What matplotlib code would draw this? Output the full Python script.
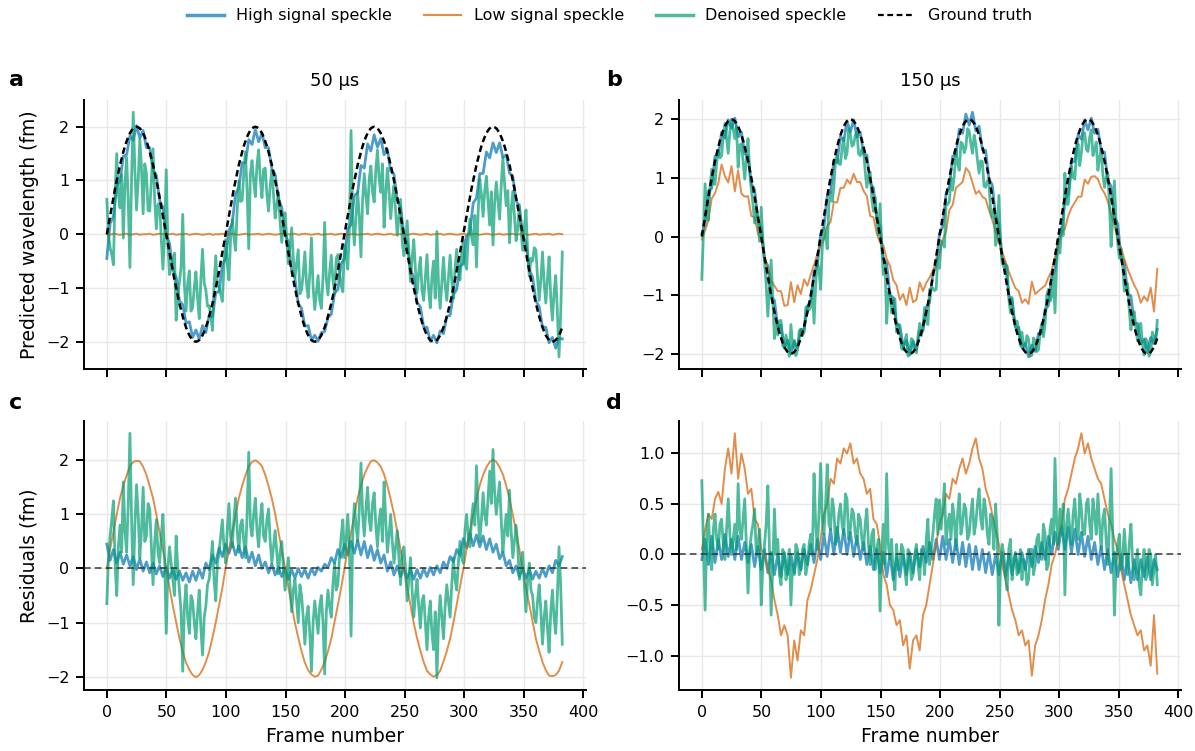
import numpy as np
import matplotlib
matplotlib.use("Agg")
import matplotlib.pyplot as plt
from matplotlib.lines import Line2D

# ---------------- data ----------------
fine_step = 1.385                      # frames between fine samples
frames_fine = np.arange(277) * fine_step
frames = frames_fine[::2]             # coarse grid (139 samples)

ground_truth_fine = [
    0.00, 0.17, 0.35, 0.52, 0.68, 0.85, 1.00, 1.15, 1.29, 1.41, 1.53, 1.64, 1.73, 1.81, 1.88, 1.93, 1.97, 1.99,
    2.00, 1.99, 1.97, 1.93, 1.88, 1.81, 1.73, 1.64, 1.53, 1.41, 1.29, 1.15, 1.00, 0.85, 0.68, 0.52, 0.35, 0.17,
    0.00, -0.17, -0.35, -0.52, -0.68, -0.85, -1.00, -1.15, -1.29, -1.41, -1.53, -1.64, -1.73, -1.81, -1.88, -1.93, -1.97, -1.99,
    -2.00, -1.99, -1.97, -1.93, -1.88, -1.81, -1.73, -1.64, -1.53, -1.41, -1.29, -1.15, -1.00, -0.85, -0.68, -0.52, -0.35, -0.17,
    0.00, 0.17, 0.35, 0.52, 0.68, 0.85, 1.00, 1.15, 1.29, 1.41, 1.53, 1.64, 1.73, 1.81, 1.88, 1.93, 1.97, 1.99,
    2.00, 1.99, 1.97, 1.93, 1.88, 1.81, 1.73, 1.64, 1.53, 1.41, 1.29, 1.15, 1.00, 0.85, 0.68, 0.52, 0.35, 0.17,
    0.00, -0.17, -0.35, -0.52, -0.68, -0.85, -1.00, -1.15, -1.29, -1.41, -1.53, -1.64, -1.73, -1.81, -1.88, -1.93, -1.97, -1.99,
    -2.00, -1.99, -1.97, -1.93, -1.88, -1.81, -1.73, -1.64, -1.53, -1.41, -1.29, -1.15, -1.00, -0.85, -0.68, -0.52, -0.35, -0.17,
    0.00, 0.17, 0.35, 0.52, 0.68, 0.85, 1.00, 1.15, 1.29, 1.41, 1.53, 1.64, 1.73, 1.81, 1.88, 1.93, 1.97, 1.99,
    2.00, 1.99, 1.97, 1.93, 1.88, 1.81, 1.73, 1.64, 1.53, 1.41, 1.29, 1.15, 1.00, 0.85, 0.68, 0.52, 0.35, 0.17,
    0.00, -0.17, -0.35, -0.52, -0.68, -0.85, -1.00, -1.15, -1.29, -1.41, -1.53, -1.64, -1.73, -1.81, -1.88, -1.93, -1.97, -1.99,
    -2.00, -1.99, -1.97, -1.93, -1.88, -1.81, -1.73, -1.64, -1.53, -1.41, -1.29, -1.15, -1.00, -0.85, -0.68, -0.52, -0.35, -0.17,
    0.00, 0.17, 0.35, 0.52, 0.68, 0.85, 1.00, 1.15, 1.29, 1.41, 1.53, 1.64, 1.73, 1.81, 1.88, 1.93, 1.97, 1.99,
    2.00, 1.99, 1.97, 1.93, 1.88, 1.81, 1.73, 1.64, 1.53, 1.41, 1.29, 1.15, 1.00, 0.85, 0.68, 0.52, 0.35, 0.17,
    0.00, -0.17, -0.35, -0.52, -0.68, -0.85, -1.00, -1.15, -1.29, -1.41, -1.53, -1.64, -1.73, -1.81, -1.88, -1.93, -1.97, -1.99,
    -2.00, -1.99, -1.97, -1.93, -1.88, -1.81, -1.73,
]

# 50 us residuals (ground truth - prediction), coarse grid
resid_high_50 = [
    0.45, 0.15, 0.35, 0.10, 0.30, 0.08, 0.25, 0.05, 0.22, -0.02,
    0.18, -0.05, 0.12, -0.08, 0.10, -0.10, 0.05, -0.15, 0.02, -0.18,
    -0.02, -0.20, -0.05, -0.22, -0.08, -0.25, -0.05, -0.22, -0.02, -0.18,
    0.10, -0.02, 0.25, 0.10, 0.38, 0.22, 0.45, 0.28, 0.48, 0.25,
    0.42, 0.20, 0.40, 0.12, 0.30, 0.05, 0.25, 0.00, 0.12, -0.08,
    0.08, -0.12, 0.02, -0.15, 0.00, -0.20, -0.02, -0.18, 0.00, -0.15,
    -0.02, -0.18, 0.00, -0.12, 0.02, -0.05, 0.08, 0.02, 0.20, 0.10,
    0.35, 0.20, 0.45, 0.25, 0.50, 0.28, 0.52, 0.25, 0.50, 0.20,
    0.42, 0.15, 0.35, 0.10, 0.25, -0.05, 0.12, -0.12, 0.05, -0.15,
    0.00, -0.18, -0.02, -0.20, -0.02, -0.18, 0.00, -0.15, 0.02, -0.12,
    0.05, -0.08, 0.12, 0.00, 0.22, 0.12, 0.35, 0.25, 0.55, 0.38,
    0.65, 0.42, 0.62, 0.40, 0.60, 0.35, 0.55, 0.30, 0.45, 0.18,
    0.30, 0.05, 0.15, -0.08, 0.05, -0.15, 0.00, -0.18, -0.02, -0.20,
    -0.05, -0.18, 0.00, -0.15, 0.05, -0.08, 0.15, 0.05, 0.22,
]

pred_low_50 = [
    0.00, -0.01, 0.01, 0.00, -0.01, 0.00, 0.01, -0.01, 0.00, 0.01,
    -0.01, 0.00, 0.00, 0.01, -0.01, 0.00, 0.01, 0.00, -0.01, 0.00,
    0.01, -0.01, 0.00, 0.00, 0.01, -0.01, 0.00, 0.01, 0.00, -0.01,
    0.00, 0.01, -0.01, 0.00, 0.00, 0.01, -0.01, 0.00, 0.01, 0.00,
    -0.01, 0.00, 0.01, -0.01, 0.00, 0.00, 0.01, -0.01, 0.00, 0.01,
    0.00, -0.01, 0.00, 0.01, -0.01, 0.00, 0.00, 0.01, -0.01, 0.00,
    0.01, 0.00, -0.01, 0.00, 0.01, -0.01, 0.00, 0.00, 0.01, -0.01,
    0.00, 0.01, 0.00, -0.01, 0.00, 0.01, -0.01, 0.00, 0.00, 0.01,
    -0.01, 0.00, 0.01, 0.00, -0.01, 0.00, 0.01, -0.01, 0.00, 0.00,
    0.01, -0.01, 0.00, 0.01, 0.00, -0.01, 0.00, 0.01, -0.01, 0.00,
    0.00, 0.01, -0.01, 0.00, 0.01, 0.00, -0.01, 0.00, 0.01, -0.01,
    0.00, 0.00, 0.01, -0.01, 0.00, 0.01, 0.00, -0.01, 0.00, 0.01,
    -0.01, 0.00, 0.00, 0.01, -0.01, 0.00, 0.01, 0.00, -0.01, 0.00,
    0.01, -0.01, 0.00, 0.00, 0.01, -0.01, 0.00, 0.01, 0.00,
]

# denoised residual, 50 us, fine grid
resid_den_50 = [
    -0.65, 0.20, 0.60, 0.90, 1.25, 0.10, -0.50, 0.40, 0.80, 0.30, 1.60, 0.70, 0.30, 1.20, 2.50, 0.90, -0.30, 0.80, 1.55, 1.00,
    0.20, 0.70, 1.50, 0.50, 0.60, 1.20, 1.10, 0.40, -0.30, 0.50, 0.90, 0.30, 0.10, 0.60, 1.00, 0.20, -1.20, 0.00, 0.40, 0.10,
    -0.20, -0.50, 0.60, 0.00, -0.40, -0.80, -1.90, -0.70, -0.30, -0.90, -1.20, -0.50, -0.60, -1.00, -1.30, -0.80, -0.40, -1.10, -1.60, -0.90,
    -0.70, -0.30, -0.20, 0.10, 0.50, -0.20, -0.60, 0.10, 0.30, 0.60, 0.90, 0.40, 0.10, 0.70, 1.20, 0.60, 0.40, 0.90, 1.30, 0.70,
    0.30, 0.80, 0.90, 0.50, 0.20, 1.00, 2.15, 0.80, 0.60, 1.00, 1.30, 0.70, 0.40, 0.90, 1.20, 0.60, 0.50, 0.90, 1.10, 0.50,
    0.10, 0.40, 0.70, 0.30, -0.10, 0.30, 0.50, 0.00, -0.40, -0.10, 0.20, -0.30, -0.80, -0.40, -0.20, -0.60, -1.00, -0.30, -0.50, -0.90,
    -1.40, -0.90, -0.70, -1.20, -1.90, -1.00, -0.60, -0.90, -1.20, -0.70, -0.50, -1.00, -1.95, -0.80, -0.40, -0.70, -0.90, -0.30, 0.10, -0.40,
    -0.30, 0.20, 0.60, 0.90, 0.20, 0.50, 1.00, 0.40, -1.25, 0.60, 1.20, 0.80, 0.50, 1.10, 1.95, 1.00, 0.60, 1.10, 1.50, 0.90,
    0.70, 1.20, 1.40, 0.80, 0.40, 0.90, 1.10, 0.50, 1.60, 0.90, 0.30, 0.60, 1.00, 0.50, 0.10, 0.40, 0.70, 0.20, -0.30, 0.30,
    0.40, 0.00, -0.60, -0.20, 0.20, -0.40, -0.90, -0.50, -0.20, -0.70, -1.10, -0.60, -0.50, -1.00, -1.50, -0.90, -0.60, -1.20, -1.50, -0.80,
    -2.02, -1.00, -0.50, -0.90, -1.30, -0.70, -0.30, -0.60, -0.90, -0.30, 0.20, -0.20, -0.40, 0.10, 0.50, 0.20, 0.10, 0.70, 1.00, 0.60,
    0.40, 0.90, 1.20, 0.80, 1.90, 1.00, 0.50, 0.90, 1.40, 1.00, 0.80, 1.30, 1.80, 1.20, 2.20, 1.40, 1.00, 1.30, 1.60, 0.90,
    0.30, 0.70, 1.00, 0.60, 1.45, 0.70, 0.20, 0.50, 0.80, 0.40, -0.20, 0.10, 0.30, -0.30, -0.80, -0.20, 0.10, -0.40, -0.50, -0.90,
    -1.00, -0.60, -0.30, -0.80, -1.40, -0.90, -0.60, -1.10, -1.55, -0.80, -0.40, -0.90, -1.20, -0.50, 0.40, -0.30, -1.40,
]

# 150 us residuals (ground truth - prediction), coarse grid
resid_high_150 = [
    -0.05, 0.15, -0.10, 0.18, -0.08, 0.15, -0.05, 0.20, -0.02, 0.15,
    -0.05, 0.18, -0.05, 0.12, -0.08, 0.10, -0.12, 0.08, -0.15, 0.05,
    -0.18, 0.02, -0.20, 0.00, -0.22, 0.02, -0.20, 0.00, -0.18, 0.02,
    -0.15, 0.05, -0.10, 0.10, -0.08, 0.15, -0.05, 0.20, -0.02, 0.25,
    0.00, 0.27, 0.02, 0.25, 0.00, 0.22, -0.02, 0.18, -0.05, 0.12,
    -0.10, 0.08, -0.15, 0.05, -0.18, 0.02, -0.22, 0.00, -0.25, -0.02,
    -0.22, 0.00, -0.20, 0.02, -0.18, 0.05, -0.12, 0.08, -0.08, 0.12,
    -0.05, 0.15, -0.05, 0.18, -0.05, 0.15, -0.08, 0.15, -0.10, 0.12,
    -0.12, 0.10, -0.15, 0.08, -0.15, 0.05, -0.18, 0.02, -0.20, 0.00,
    -0.20, 0.02, -0.22, 0.00, -0.20, 0.02, -0.18, 0.02, -0.15, 0.05,
    -0.12, 0.08, -0.08, 0.12, -0.05, 0.18, 0.00, 0.22, 0.05, 0.28,
    0.05, 0.27, 0.02, 0.25, 0.00, 0.22, -0.02, 0.18, -0.05, 0.12,
    -0.10, 0.08, -0.15, 0.05, -0.18, 0.02, -0.22, 0.00, -0.25, -0.02,
    -0.28, -0.05, -0.25, -0.05, -0.22, -0.02, -0.25, -0.05, -0.15,
]

resid_low_150 = [
    0.05, 0.25, 0.40, 0.35, 0.55, 0.62, 0.50, 0.85, 1.05, 0.80,
    1.20, 0.75, 1.00, 0.85, 0.60, 0.65, 0.35, 0.30, 0.05, 0.00,
    -0.15, -0.25, -0.45, -0.60, -0.80, -0.70, -0.80, -1.22, -0.85, -1.05,
    -0.75, -0.80, -0.45, -0.35, -0.20, -0.05, 0.15, 0.40, 0.50, 0.75,
    0.70, 0.95, 0.90, 1.05, 1.00, 1.10, 0.90, 0.95, 0.80, 0.75,
    0.60, 0.65, 0.35, 0.30, 0.10, -0.20, -0.30, -0.50, -0.55, -0.70,
    -0.65, -0.90, -0.80, -1.13, -0.85, -0.80, -0.95, -0.60, -0.50, -0.30,
    -0.10, 0.10, 0.30, 0.40, 0.60, 0.55, 0.75, 0.70, 0.85, 0.95,
    0.80, 0.90, 1.05, 1.15, 0.95, 0.85, 0.65, 0.55, 0.40, 0.25,
    0.10, -0.10, -0.25, -0.40, -0.55, -0.65, -0.80, -0.75, -0.90, -0.85,
    -1.20, -0.90, -0.80, -0.65, -0.45, -0.30, -0.10, 0.00, 0.15, 0.30,
    0.55, 0.65, 0.80, 0.95, 1.05, 1.20, 1.00, 1.10, 0.95, 0.85,
    0.75, 0.70, 0.55, 0.40, 0.30, 0.15, 0.05, -0.15, -0.30, -0.45,
    -0.60, -0.70, -0.80, -0.75, -0.95, -0.90, -1.10, -0.60, -1.18,
]

# denoised residual, 150 us, fine grid
resid_den_150 = [
    0.73, 0.10, -0.55, 0.20, 0.40, 0.00, -0.15, 0.25, 0.40, 0.15, 0.05, 0.30, 0.35, 0.10, -0.05, 0.25, 0.55, 0.20, 0.00, 0.15,
    0.30, 0.05, 0.70, 0.25, 0.15, 0.35, 0.55, 0.10, -0.38, 0.05, 0.20, 0.30, 0.45, 0.00, 0.10, 0.25, -0.50, -0.10, 0.10, 0.30,
    0.68, 0.05, -0.60, -0.10, 0.45, 0.00, 0.15, -0.20, -0.30, 0.05, 0.00, -0.25, -0.15, 0.05, -0.50, -0.10, -0.20, 0.10, 0.05, -0.20,
    -0.15, 0.05, 0.10, -0.20, -0.10, 0.10, 0.20, 0.00, 0.80, 0.30, 0.05, 0.40, 0.90, 0.35, 0.20, 0.50, 0.89, 0.30, 0.25, 0.55,
    0.45, 0.10, 0.15, 0.40, 0.50, 0.30, 0.20, 0.60, 0.55, 0.15, 0.25, 0.45, 0.40, 0.20, 0.10, 0.40, 0.35, 0.15, 0.05, 0.30,
    0.45, 0.10, -0.10, 0.20, 0.25, -0.15, 0.05, 0.15, -0.56, 0.00, 0.30, -0.10, 0.80, 0.10, -0.05, 0.15, -0.20, -0.35, 0.10, -0.15,
    -0.10, 0.10, 0.05, -0.15, -0.30, 0.05, -0.05, -0.25, -0.20, 0.00, 0.10, -0.10, -0.25, 0.05, 0.00, -0.20, 0.15, 0.35, -0.10, 0.05,
    0.20, 0.40, 0.55, 0.20, 0.54, 0.25, 0.45, 0.70, 0.10, 0.30, 0.40, 0.15, 0.50, 0.35, 0.05, 0.40, 0.60, 0.20, 0.30, 0.50,
    0.45, 0.15, 0.20, 0.40, 0.55, 0.20, 0.30, 0.50, 0.65, 0.35, 0.25, 0.55, 0.45, 0.20, 0.10, 0.40, 0.35, 0.05, 0.50, 0.20,
    -0.70, -0.10, 0.10, 0.00, -0.20, -0.35, 0.05, 0.15, -0.25, -0.05, 0.00, -0.20, -0.15, 0.05, -0.25, -0.05, -0.10, -0.30, -0.25, 0.05,
    0.05, -0.20, -0.10, 0.15, 0.20, 0.00, -0.05, 0.30, 0.20, -0.15, -0.10, 0.25, 0.35, 0.10, 0.95, 0.30, 0.10, 0.45, 0.20, 0.50,
    -0.40, 0.30, 0.45, 0.25, 0.10, 0.40, 0.55, 0.25, 0.15, 0.60, 0.45, 0.20, 0.20, 0.50, 0.55, 0.30, 0.15, 0.55, 0.40, 0.20,
    0.60, 0.30, 0.05, 0.35, 0.45, 0.15, -0.10, 0.30, 0.85, 0.20, -0.60, -0.10, 0.10, 0.20, -0.15, -0.05, 0.25, 0.00, -0.20, 0.10,
    0.30, -0.05, -0.25, -0.10, 0.05, -0.30, -0.40, -0.10, 0.05, -0.25, -0.20, 0.05, 0.00, -0.30, -0.15, 0.00, -0.30,
]

# predictions derived from ground truth and residuals
gt_fine = np.array(ground_truth_fine)
gt = gt_fine[::2]
pred_high_50 = gt - np.array(resid_high_50)
pred_den_50 = gt_fine - np.array(resid_den_50)
low_50 = np.array(pred_low_50)
resid_low_50 = gt - low_50
pred_high_150 = gt - np.array(resid_high_150)
pred_low_150 = gt - np.array(resid_low_150)
pred_den_150 = gt_fine - np.array(resid_den_150)

series_labels = ["High signal speckle", "Low signal speckle",
                 "Denoised speckle", "Ground truth"]
panel_titles = ["50 µs", "150 µs"]

# ---------------- style ----------------
C_HIGH = "#0173b2"
C_LOW = "#d55e00"
C_DEN = "#029e73"
ALPHA = 0.7
LW_HIGH, LW_LOW, LW_DEN = 2.0, 1.4, 2.0

plt.rcParams["font.family"] = ["DejaVu Sans"]
plt.rcParams["font.size"] = 11.5

fig = plt.figure(figsize=(11.95, 7.51), dpi=100)
W, H = 1195.0, 751.0

def px_axes(left, top, right, bottom):
    return fig.add_axes([left / W, 1 - bottom / H, (right - left) / W, (bottom - top) / H])

ax_a = px_axes(84, 100, 586, 369)
ax_b = px_axes(679, 100, 1181, 369)
ax_c = px_axes(84, 421, 586, 690)
ax_d = px_axes(679, 421, 1181, 690)

gt_style = dict(color="black", lw=1.8, linestyle=(0, (2.6, 1.5)))
zero_style = dict(color="#333333", lw=1.2, linestyle=(0, (4, 2.5)), alpha=0.9)

# panel a
ax_a.plot(frames, pred_high_50, color=C_HIGH, lw=LW_HIGH, alpha=ALPHA)
ax_a.plot(frames, low_50, color=C_LOW, lw=LW_LOW, alpha=ALPHA)
ax_a.plot(frames_fine, pred_den_50, color=C_DEN, lw=LW_DEN, alpha=ALPHA)
ax_a.plot(frames_fine, gt_fine, **gt_style)

# panel b
ax_b.plot(frames, pred_high_150, color=C_HIGH, lw=LW_HIGH, alpha=ALPHA)
ax_b.plot(frames, pred_low_150, color=C_LOW, lw=LW_LOW, alpha=ALPHA)
ax_b.plot(frames_fine, pred_den_150, color=C_DEN, lw=LW_DEN, alpha=ALPHA)
ax_b.plot(frames_fine, gt_fine, **gt_style)

# panel c
ax_c.plot(frames, resid_high_50, color=C_HIGH, lw=LW_HIGH, alpha=ALPHA)
ax_c.plot(frames, resid_low_50, color=C_LOW, lw=LW_LOW, alpha=ALPHA)
ax_c.plot(frames_fine, resid_den_50, color=C_DEN, lw=LW_DEN, alpha=ALPHA)
ax_c.axhline(0, **zero_style)

# panel d
ax_d.plot(frames, resid_high_150, color=C_HIGH, lw=LW_HIGH, alpha=ALPHA)
ax_d.plot(frames, resid_low_150, color=C_LOW, lw=LW_LOW, alpha=ALPHA)
ax_d.plot(frames_fine, resid_den_150, color=C_DEN, lw=LW_DEN, alpha=ALPHA)
ax_d.axhline(0, **zero_style)

for ax in (ax_a, ax_b, ax_c, ax_d):
    ax.set_xlim(-19.15, 402.15)
    ax.set_xticks(np.arange(0, 401, 50))
    ax.grid(True, color="#e8e8e8", lw=1.0)
    ax.set_axisbelow(True)
    for s in ("top", "right"):
        ax.spines[s].set_visible(False)
    for s in ("left", "bottom"):
        ax.spines[s].set_linewidth(1.4)
    ax.tick_params(direction="out", length=6, width=1.4, pad=4.5, labelsize=11.5)

for ax in (ax_a, ax_b):
    ax.tick_params(labelbottom=False)
ax_a.set_yticks([-2, -1, 0, 1, 2])
ax_b.set_yticks([-2, -1, 0, 1, 2])
ax_c.set_yticks([-2, -1, 0, 1, 2])
ax_d.set_yticks([-1.0, -0.5, 0.0, 0.5, 1.0])

ax_a.set_title(panel_titles[0], fontsize=13, pad=10)
ax_b.set_title(panel_titles[1], fontsize=13, pad=10)
ax_a.set_ylabel("Predicted wavelength (fm)", fontsize=13.5, labelpad=5)
ax_c.set_ylabel("Residuals (fm)", fontsize=13.5, labelpad=5)
ax_c.set_xlabel("Frame number", fontsize=13.5, labelpad=5)
ax_d.set_xlabel("Frame number", fontsize=13.5, labelpad=5)

for lab, x, y in (("a", 9, 80), ("b", 606, 80), ("c", 9, 403), ("d", 606, 403)):
    fig.text(x / W, 1 - y / H, lab, fontsize=16, fontweight="bold", va="center", ha="left")

handles = [
    Line2D([], [], color=C_HIGH, lw=2.5, alpha=ALPHA),
    Line2D([], [], color=C_LOW, lw=1.5, alpha=ALPHA),
    Line2D([], [], color=C_DEN, lw=2.5, alpha=ALPHA),
    Line2D([], [], color="black", lw=1.6, linestyle=(0, (2.6, 1.6))),
]
fig.legend(handles, series_labels, loc="upper center", bbox_to_anchor=(0.51, 1.008),
           ncol=4, frameon=False, fontsize=11.5, handlelength=2.3, columnspacing=2.0)

fig.savefig("out.png", dpi=100)
